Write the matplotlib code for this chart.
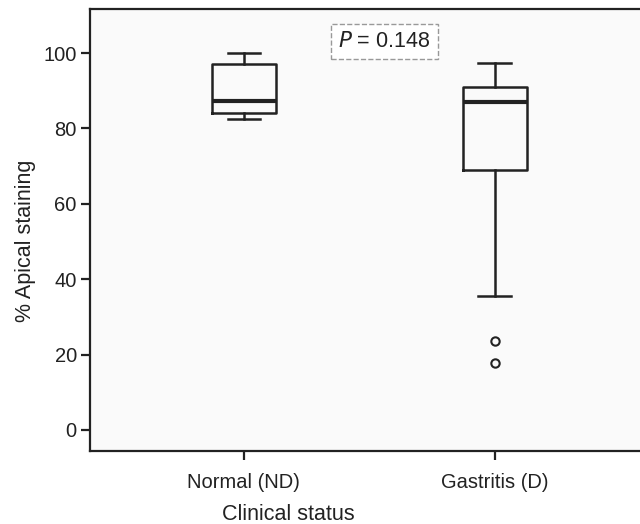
import matplotlib.pyplot as plt

plt.rcParams['font.family'] = ['Liberation Sans', 'DejaVu Sans']

# ---- data ----
groups = ['Normal (ND)', 'Gastritis (D)']
whislo = [82.5, 35.6]
q1 = [84.2, 69.0]
med = [87.3, 87.0]
q3 = [97.1, 91.1]
whishi = [100.0, 97.4]
fliers = [[], [23.6, 17.7]]
p_text = '$\\it{P}$ = 0.148'

stats = []
for i in range(len(groups)):
    stats.append(dict(label=groups[i], whislo=whislo[i], q1=q1[i], med=med[i],
                      q3=q3[i], whishi=whishi[i], fliers=fliers[i]))

fig = plt.figure(figsize=(6.4, 5.24), dpi=100)
ax = fig.add_axes([0.1406, 0.140, 0.8594, 0.842])
ax.set_facecolor('#fafafa')

lw = 1.8
ax.bxp(stats, positions=[1, 2], widths=0.255, capwidths=0.13,
       boxprops=dict(color='#222222', linewidth=lw),
       whiskerprops=dict(color='#222222', linewidth=lw),
       capprops=dict(color='#222222', linewidth=lw),
       medianprops=dict(color='#222222', linewidth=3),
       flierprops=dict(marker='o', markersize=6, markerfacecolor='none',
                       markeredgecolor='#222222', markeredgewidth=1.5))

ax.set_xlim(0.386, 2.58)
ax.set_ylim(-5.5, 111.6)
ax.set_yticks([0, 20, 40, 60, 80, 100])
ax.set_xticks([1, 2])
ax.set_xticklabels(groups)

for s in ['left', 'bottom', 'top']:
    ax.spines[s].set_linewidth(1.6)
    ax.spines[s].set_color('#222222')
ax.spines['right'].set_visible(False)
ax.tick_params(axis='both', length=6.5, width=1.6, color='#222222',
               labelsize=14.5, labelcolor='#222222')
ax.tick_params(axis='y', pad=3)
ax.tick_params(axis='x', pad=9.5)

# the original panel is cropped on the right, so the axis titles sit off-centre
ax.set_xlabel('Clinical status', fontsize=15.5, color='#222222', labelpad=9, x=0.36)
ax.set_ylabel('% Apical staining', fontsize=15.5, color='#222222', labelpad=5, y=0.475)

ax.text(1.56, 103, p_text, fontsize=15.5, color='#222222', ha='center', va='center',
        bbox=dict(boxstyle='square,pad=0.33', facecolor='white',
                  edgecolor='#999999', linestyle='--', linewidth=1))

fig.savefig('out.png', dpi=100)
